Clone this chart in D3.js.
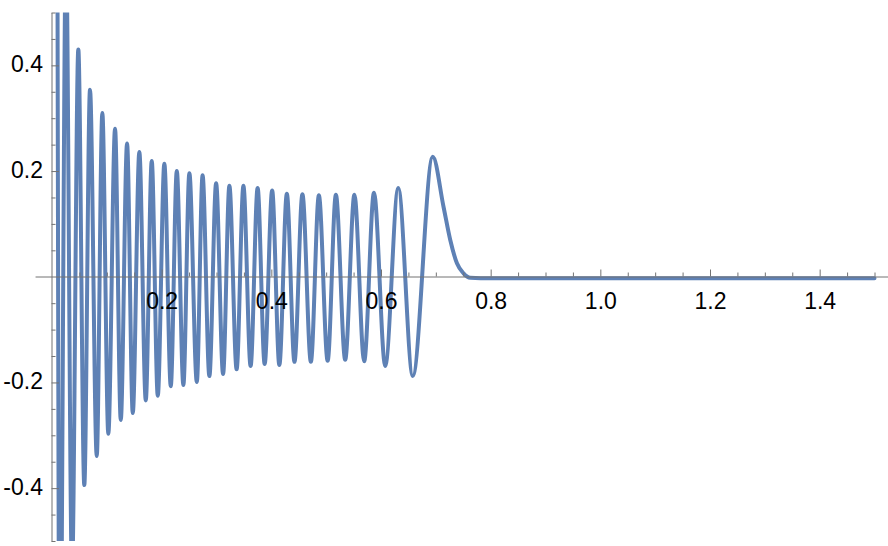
<!DOCTYPE html>
<html>
<head>
<meta charset="utf-8">
<script src="https://cdn.jsdelivr.net/npm/d3@7"></script>
<style>
body { margin: 0; background: #fff; }
</style>
</head>
<body>
<script>
//values (x in data units)
var startX = [0],
    startY = [1.5];

//local maxima of the curve
var peakX = [0.006, 0.0255, 0.048, 0.0693, 0.0918, 0.115, 0.1369, 0.1593, 0.1819, 0.2049,
             0.2276, 0.2505, 0.2746, 0.2993, 0.3235, 0.3491, 0.375, 0.4015, 0.4283, 0.4567,
             0.4867, 0.5177, 0.5515, 0.5872, 0.6314, 0.6943];
var peakY = [2.0, 0.62, 0.430, 0.354, 0.310, 0.280, 0.252, 0.236, 0.219, 0.214,
             0.200, 0.196, 0.192, 0.177, 0.172, 0.172, 0.168, 0.163, 0.157, 0.156,
             0.154, 0.155, 0.155, 0.159, 0.168, 0.227];

//local minima of the curve
var troughX = [0.0141, 0.0365, 0.0589, 0.0816, 0.1027, 0.1254, 0.1473, 0.171, 0.1929, 0.2166,
               0.2396, 0.2641, 0.287, 0.312, 0.3367, 0.3622, 0.3878, 0.4146, 0.4422, 0.4721,
               0.5027, 0.5347, 0.5693, 0.6077, 0.6579];
var troughY = [-0.9, -0.56, -0.394, -0.339, -0.297, -0.271, -0.258, -0.234, -0.225, -0.207,
               -0.205, -0.199, -0.188, -0.184, -0.175, -0.169, -0.165, -0.167, -0.161, -0.161,
               -0.159, -0.157, -0.160, -0.169, -0.188];

//decay after the last bump, then flat
var tailX = [0.714, 0.7263, 0.7385, 0.7505, 0.7628, 0.80, 1.5],
    tailY = [0.1325, 0.0695, 0.0254, 0.0065, -0.002, -0.003, -0.003];

//tick values and labels
var xTickValues = [0.2, 0.4, 0.6, 0.8, 1.0, 1.2, 1.4],
    xTickLabels = ["0.2", "0.4", "0.6", "0.8", "1.0", "1.2", "1.4"];
var yTickValues = [0.4, 0.2, -0.2, -0.4],
    yTickLabels = ["0.4", "0.2", "-0.2", "-0.4"];

function drawChart(){

    //frame dimensions
    var width = 888,
        height = 546;

    var svg = d3.select("body")
        .append("svg")
        .attr("width", width)
        .attr("height", height);

    //scales
    var x = d3.scaleLinear()
        .domain([0, 1.5])
        .range([52, 874.5]);

    var y = d3.scaleLinear()
        .domain([-0.5, 0.5])
        .range([541, 12.5]);

    var axisColor = "#737373",
        font = "'Liberation Sans', Arial, sans-serif";

    //build the curve points from the arrays
    var points = [];
    startX.forEach(function(d, i){ points.push({x: d, y: startY[i]}); });
    peakX.forEach(function(d, i){ points.push({x: d, y: peakY[i]}); });
    troughX.forEach(function(d, i){ points.push({x: d, y: troughY[i]}); });
    tailX.forEach(function(d, i){ points.push({x: d, y: tailY[i]}); });
    points.sort(function(a, b){ return a.x - b.x; });

    //clip to the plot range
    svg.append("clipPath")
        .attr("id", "plotClip")
        .append("rect")
        .attr("x", 0)
        .attr("y", y(0.5))
        .attr("width", width)
        .attr("height", y(-0.5) - y(0.5));

    var line = d3.line()
        .x(function(d){ return x(d.x); })
        .y(function(d){ return y(d.y); })
        .curve(d3.curveMonotoneX);

    //curve goes first, axes are drawn on top of it
    svg.append("path")
        .datum(points)
        .attr("clip-path", "url(#plotClip)")
        .attr("d", line)
        .attr("fill", "none")
        .attr("stroke", "#5E81B5")
        .attr("stroke-width", 4)
        .attr("stroke-linejoin", "round")
        .attr("stroke-linecap", "round");

    //minor ticks every 0.05
    var xMinor = d3.range(0, 1.5001, 0.05).filter(function(d){
        return Math.abs(d / 0.2 - Math.round(d / 0.2)) > 1e-6;
    });
    var yMinor = d3.range(-0.5, 0.5001, 0.05).filter(function(d){
        return Math.abs(d / 0.2 - Math.round(d / 0.2)) > 1e-6;
    });

    var axisY0 = Math.round(y(0)) - 0.5;

    //x axis line (padded a little past the data range)
    svg.append("line")
        .attr("x1", x(-0.03))
        .attr("x2", x(1.53))
        .attr("y1", axisY0 + 0.5)
        .attr("y2", axisY0 + 0.5)
        .attr("stroke", axisColor)
        .attr("stroke-width", 1);

    //x minor ticks
    var xMinorAxis = svg.append("g")
        .attr("transform", "translate(0," + axisY0 + ")")
        .call(d3.axisBottom(x).tickValues(xMinor).tickSize(-4).tickSizeOuter(0).tickFormat(""));
    xMinorAxis.select(".domain").remove();

    //x major ticks and labels
    var xAxis = svg.append("g")
        .attr("transform", "translate(0," + axisY0 + ")")
        .call(d3.axisBottom(x)
            .tickValues(xTickValues)
            .tickFormat(function(d, i){ return xTickLabels[i]; })
            .tickSize(-7)
            .tickSizeOuter(0));
    xAxis.select(".domain").remove();
    xAxis.selectAll("text")
        .attr("dy", null)
        .attr("y", 32);

    //y minor ticks
    var axisX0 = Math.round(x(0)) - 0.5;
    var yMinorAxis = svg.append("g")
        .attr("transform", "translate(" + axisX0 + ",0)")
        .call(d3.axisLeft(y).tickValues(yMinor).tickSize(-4).tickSizeOuter(0).tickFormat(""));
    yMinorAxis.select(".domain").remove();

    //y major ticks, labels and axis line
    var yAxis = svg.append("g")
        .attr("transform", "translate(" + axisX0 + ",0)")
        .call(d3.axisLeft(y)
            .tickValues(yTickValues)
            .tickFormat(function(d, i){ return yTickLabels[i]; })
            .tickSize(-7.5)
            .tickSizeOuter(0)
            .tickPadding(8.5));
    yAxis.selectAll("text")
        .attr("dy", "0.27em");

    //style all axis parts
    svg.selectAll(".tick line, .domain")
        .attr("stroke", axisColor)
        .attr("stroke-width", 1);
    svg.selectAll(".tick text")
        .attr("fill", "#000")
        .style("font-family", font)
        .style("font-size", "23px");
};

drawChart();
</script>
</body>
</html>
